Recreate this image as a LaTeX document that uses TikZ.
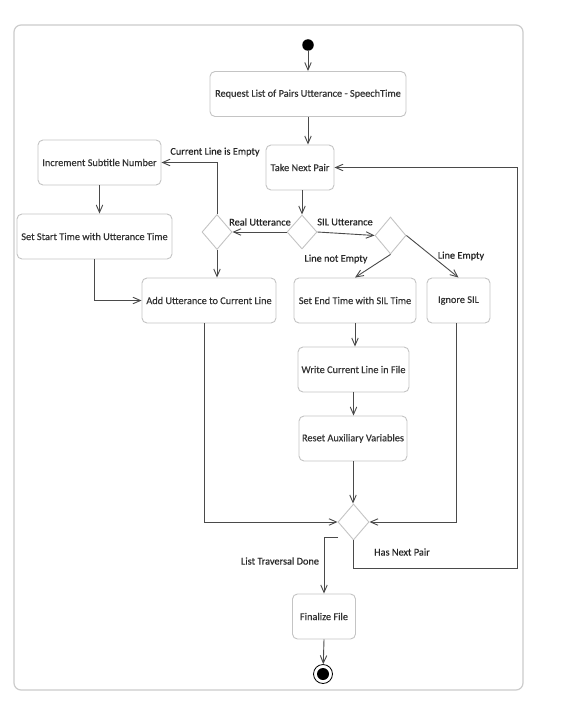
\documentclass[tikz,border=0pt]{standalone}
\usepackage{fontspec}
\setmainfont{Carlito}
\newfontfamily\diafont{Carlito}[FakeBold=0.35]
\usetikzlibrary{shapes.geometric,arrows.meta}
\definecolor{framec}{HTML}{CCCCCC}
\definecolor{boxc}{HTML}{C4C4C4}
\definecolor{linec}{HTML}{4A4A4A}
\definecolor{txtc}{HTML}{333333}
\definecolor{lblc}{HTML}{262626}
\begin{document}
\begin{tikzpicture}[x=1pt,y=-1pt,
  act/.style={draw=boxc, line width=0.9pt, rounded corners=5pt, minimum height=45pt, inner sep=0pt, text=txtc, font=\diafont\fontsize{10.3}{12}\selectfont, align=center},
  dec/.style={diamond, draw=boxc, line width=0.9pt, inner sep=0pt},
  flow/.style={draw=linec, line width=0.9pt, -{Straight Barb[length=7.5pt,width=6.5pt]}},
  lbl/.style={text=lblc, font=\diafont\fontsize{10.3}{12}\selectfont, inner sep=0pt}]
\useasboundingbox (0,0) rectangle (563,706);
\fill[white] (0,0) rectangle (563,706);
\draw[framec, line width=1.2pt, rounded corners=7pt] (14,25) rectangle (523,690);

% nodes
\node[circle, fill=black, inner sep=0pt, minimum size=11.5pt] (start) at (308,45) {};
\node[act, minimum width=196pt] (req) at (308,94) {Request List of Pairs Utterance - SpeechTime};
\node[act, minimum width=68pt] (take) at (300,167.5) {Take Next Pair};
\node[act, minimum width=123pt] (inc) at (99.5,162.5) {Increment Subtitle Number};
\node[act, minimum width=155pt] (sst) at (94.5,236.5) {Set Start Time with Utterance Time};
\node[act, minimum width=134pt] (add) at (209,300.5) {Add Utterance to Current Line};
\node[act, minimum width=122pt] (set) at (355,300.5) {Set End Time with SIL Time};
\node[act, minimum width=63pt] (ign) at (458.5,300.5) {Ignore SIL};
\node[act, minimum width=111pt] (wr) at (353.5,369.5) {Write Current Line in File};
\node[act, minimum width=108pt] (rst) at (353,438.5) {Reset Auxiliary Variables};
\node[act, minimum width=63pt] (fin) at (324,616.5) {Finalize File};
\node[dec, minimum width=30pt, minimum height=35pt] (d1) at (217,232) {};
\node[dec, minimum width=30pt, minimum height=34pt] (d2) at (302,232) {};
\node[dec, minimum width=31pt, minimum height=37pt] (d3) at (390.5,235.5) {};
\node[dec, minimum width=31pt, minimum height=36pt] (dm) at (353.5,522) {};
\node[circle, draw=black, line width=0.8pt, minimum size=19pt, inner sep=0pt] (endn) at (323,674) {};
\fill[black] (endn.center) circle (6pt);

\coordinate (lp) at (517,568);
\coordinate (ltd) at (338,537);

% labels
\node[lbl] (l1) at (215,152) {Current Line is Empty};
\node[lbl] (l2) at (260,222) {Real Utterance};
\node[lbl] (l3) at (345,222) {SIL Utterance};
\node[lbl] (l4) at (336,259) {Line not Empty};
\node[lbl] (l5) at (461,256) {Line Empty};
\node[lbl] (l6) at (402,552) {Has Next Pair};
\node[lbl] (l7) at (280,561) {List Traversal Done};

% connectors
\draw[flow] (start) -- (req);
\draw[flow] (req.south) -- (req.south |- take.north);
\draw[flow] (d2.north |- take.south) -- (d2.north);
\draw[flow] (d2.west) -- (d1.east);
\draw[flow] (d2.east) -- (d3.west);
\draw[flow] (d1.north) |- (inc.east);
\draw[flow] (d1.south) -- (d1.south |- add.north);
\draw[flow] (inc.south) -- (inc.south |- sst.north);
\draw[flow] (sst.south) |- (add.west);
\draw[flow] (d3.south) -- (set.north);
\draw[flow] (d3.east) -- (ign.north);
\draw[flow] (set.south) -- (set.south |- wr.north);
\draw[flow] (wr.south) -- (wr.south |- rst.north);
\draw[flow] (rst.south) -- (rst.south |- dm.north);
\draw[flow] ([xshift=-5pt]add.south) |- (dm.west);
\draw[flow] ([xshift=-2.5pt]ign.south) |- (dm.east);
\draw[flow] (dm.south) |- (lp) |- (take.east);
\draw[flow] (ltd) -| (fin.north);
\draw[flow] (fin.south) -- (endn);
\end{tikzpicture}
\end{document}
